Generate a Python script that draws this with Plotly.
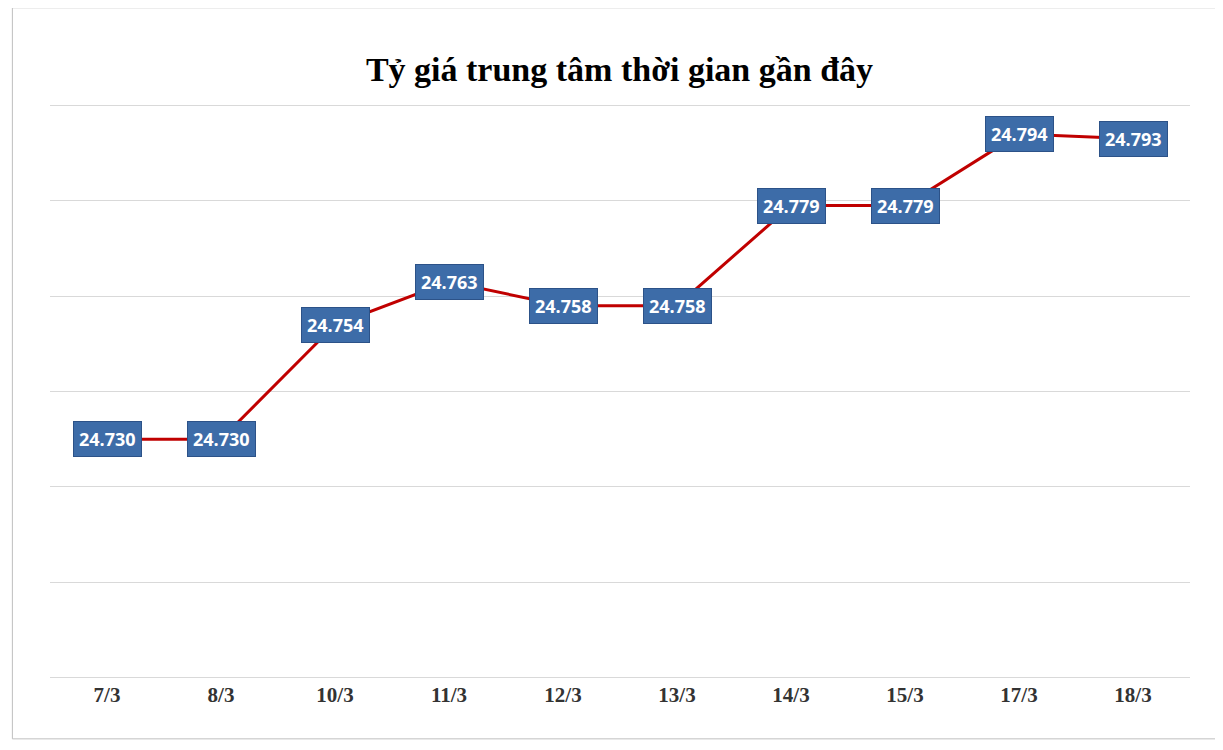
import plotly.graph_objects as go

dates = ["7/3", "8/3", "10/3", "11/3", "12/3", "13/3", "14/3", "15/3", "17/3", "18/3"]
rates = [24.730, 24.730, 24.754, 24.763, 24.758, 24.758, 24.779, 24.779, 24.794, 24.793]
labels = ["24.730", "24.730", "24.754", "24.763", "24.758", "24.758", "24.779", "24.779", "24.794", "24.793"]

fig = go.Figure()
fig.add_trace(
    go.Scatter(
        x=dates,
        y=rates,
        mode="lines",
        line=dict(color="#c00000", width=3),
        showlegend=False,
        hoverinfo="skip",
    )
)
for d, r, t in zip(dates, rates, labels):
    fig.add_annotation(
        x=d,
        y=r,
        text=t,
        showarrow=False,
        font=dict(family="Open Sans", size=18, color="white", weight="bold"),
        bgcolor="#3d6ca8",
        bordercolor="#2c5288",
        borderwidth=1,
        borderpad=5,
    )

fig.update_layout(
    width=1223,
    height=750,
    margin=dict(l=42, r=41, t=95, b=78),
    paper_bgcolor="white",
    plot_bgcolor="white",
    title=dict(
        text="Tỷ giá trung tâm thời gian gần đây",
        x=0.5,
        xanchor="center",
        y=0.935,
        font=dict(family="Liberation Serif", size=34, color="black", weight="bold"),
    ),
    xaxis=dict(
        type="category",
        range=[-0.5, 9.5],
        autorange=False,
        showgrid=False,
        showline=False,
        ticks="",
        tickfont=dict(family="Liberation Serif", size=21, color="#333", weight="bold"),
    ),
    yaxis=dict(
        range=[24.6795, 24.8005],
        autorange=False,
        tickvals=[24.68, 24.70, 24.72, 24.74, 24.76, 24.78, 24.80],
        showticklabels=False,
        gridcolor="#d9d9d9",
        zeroline=False,
    ),
    shapes=[
        dict(
            type="rect", xref="paper", yref="paper",
            x0=-0.033, x1=1.033, y0=-0.102, y1=1.165,
            line=dict(color="#bfbfbf", width=1),
        )
    ],
)

fig.write_html("out.html")
